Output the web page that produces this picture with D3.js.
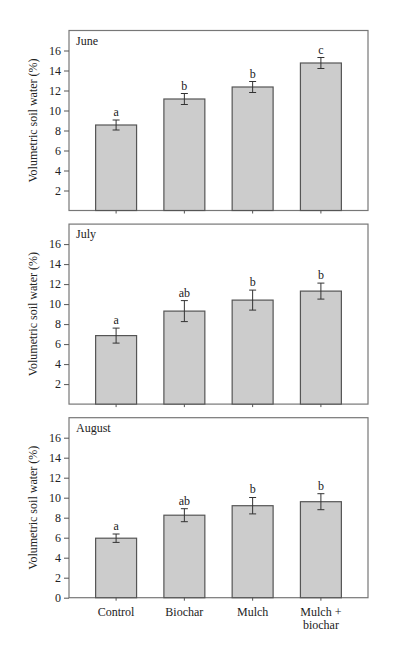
<!DOCTYPE html>
<html>
<head>
<meta charset="utf-8">
<script src="https://cdn.jsdelivr.net/npm/d3@7"></script>
<style>
body { margin: 0; background: #fff; }
#vis { width: 399px; height: 660px; }
text { font-family: "Liberation Serif", "DejaVu Serif", serif; fill: #222; }
</style>
</head>
<body>
<div id="vis"></div>
<script>
var categories = ["Control", "Biochar", "Mulch", "Mulch + biochar"];
var months = ["June", "July", "August"];
var juneMeans = [8.55, 11.15, 12.35, 14.75];
var juneErr = [0.5, 0.55, 0.55, 0.55];
var juneLetters = ["a", "b", "b", "c"];
var julyMeans = [6.85, 9.3, 10.4, 11.3];
var julyErr = [0.75, 1.05, 1.0, 0.8];
var julyLetters = ["a", "ab", "b", "b"];
var augustMeans = [5.95, 8.25, 9.2, 9.6];
var augustErr = [0.42, 0.65, 0.82, 0.8];
var augustLetters = ["a", "ab", "b", "b"];
var yTicks = [2, 4, 6, 8, 10, 12, 14, 16];
var yTicksBottom = [0, 2, 4, 6, 8, 10, 12, 14, 16];

var width = 399;
var height = 660;
var left = 69, plotW = 299, plotH = 180, top0 = 30.5, gap = 193.6;

var svg = d3.select('#vis').append('svg').attr('width', width).attr('height', height);

var x_scale = d3.scaleBand().domain(categories).range([0, plotW]).paddingInner(0.4).paddingOuter(0.39);
var y_scale = d3.scaleLinear().domain([0, 18]).range([plotH, 0]);

var panels = [
	{ month: months[0], means: juneMeans, err: juneErr, letters: juneLetters, ticks: yTicks },
	{ month: months[1], means: julyMeans, err: julyErr, letters: julyLetters, ticks: yTicks },
	{ month: months[2], means: augustMeans, err: augustErr, letters: augustLetters, ticks: yTicksBottom }
];

panels.forEach(function(p, i) {
	var g = svg.append('g').attr('transform', 'translate(' + left + ',' + (top0 + i * gap) + ')');
	var rows = categories.map(function(c, j) {
		return { cat: c, mean: p.means[j], err: p.err[j], letter: p.letters[j] };
	});

	// frame
	g.append('rect').attr('width', plotW).attr('height', plotH)
		.attr('fill', 'none').attr('stroke', '#777').attr('stroke-width', 1.2);

	// bars
	g.selectAll('.bar').data(rows).enter().append('rect').attr('class', 'bar')
		.attr('x', function(d) { return x_scale(d.cat); })
		.attr('width', x_scale.bandwidth())
		.attr('y', function(d) { return y_scale(d.mean); })
		.attr('height', function(d) { return plotH - y_scale(d.mean); })
		.attr('fill', '#cccccc').attr('stroke', '#555').attr('stroke-width', 1.2);

	// error bars
	var eb = g.selectAll('.err').data(rows).enter().append('g').attr('class', 'err')
		.attr('transform', function(d) { return 'translate(' + (x_scale(d.cat) + x_scale.bandwidth() / 2) + ',0)'; })
		.attr('stroke', '#333').attr('stroke-width', 1);
	eb.append('line').attr('y1', function(d) { return y_scale(d.mean + d.err); })
		.attr('y2', function(d) { return y_scale(d.mean - d.err); });
	eb.append('line').attr('x1', -3.5).attr('x2', 3.5)
		.attr('y1', function(d) { return y_scale(d.mean + d.err); })
		.attr('y2', function(d) { return y_scale(d.mean + d.err); });
	eb.append('line').attr('x1', -3.5).attr('x2', 3.5)
		.attr('y1', function(d) { return y_scale(d.mean - d.err); })
		.attr('y2', function(d) { return y_scale(d.mean - d.err); });

	// letters
	g.selectAll('.letter').data(rows).enter().append('text').attr('class', 'letter')
		.attr('x', function(d) { return x_scale(d.cat) + x_scale.bandwidth() / 2; })
		.attr('y', function(d) { return y_scale(d.mean + d.err) - 4; })
		.attr('text-anchor', 'middle').style('font-size', '12px')
		.text(function(d) { return d.letter; });

	// y axis
	var y_axis = d3.axisLeft(y_scale).tickValues(p.ticks).tickSize(5).tickPadding(3);
	var ya = g.append('g').attr('class', 'y axis').call(y_axis);
	ya.select('.domain').remove();
	ya.selectAll('line').attr('stroke', '#555');
	ya.selectAll('text').style('font-size', '12px').style('font-family', '"Liberation Serif", serif').attr('fill', '#222');

	// x axis ticks
	var x_axis = d3.axisBottom(x_scale).tickSize(3).tickFormat('');
	var xa = g.append('g').attr('class', 'x axis').attr('transform', 'translate(0,' + plotH + ')').call(x_axis);
	xa.select('.domain').remove();
	xa.selectAll('line').attr('stroke', '#555');

	// month label
	g.append('text').attr('x', 7).attr('y', 14).style('font-size', '12px').text(p.month);

	// y title
	g.append('text').attr('transform', 'translate(' + (-32) + ',' + (plotH / 2) + ') rotate(-90)')
		.attr('text-anchor', 'middle').style('font-size', '12px').text('Volumetric soil water (%)');

	// category labels on bottom panel
	if (i === panels.length - 1) {
		var lab = g.selectAll('.cat').data(categories).enter().append('text').attr('class', 'cat')
			.attr('text-anchor', 'middle').style('font-size', '12px')
			.attr('transform', function(d) { return 'translate(' + (x_scale(d) + x_scale.bandwidth() / 2) + ',' + (plotH + 18) + ')'; });
		lab.each(function(d) {
			var parts = d === 'Mulch + biochar' ? ['Mulch +', 'biochar'] : [d];
			var t = d3.select(this);
			parts.forEach(function(s, k) {
				t.append('tspan').attr('x', 0).attr('dy', k === 0 ? 0 : 13.5).text(s);
			});
		});
	}
});
</script>
</body>
</html>
